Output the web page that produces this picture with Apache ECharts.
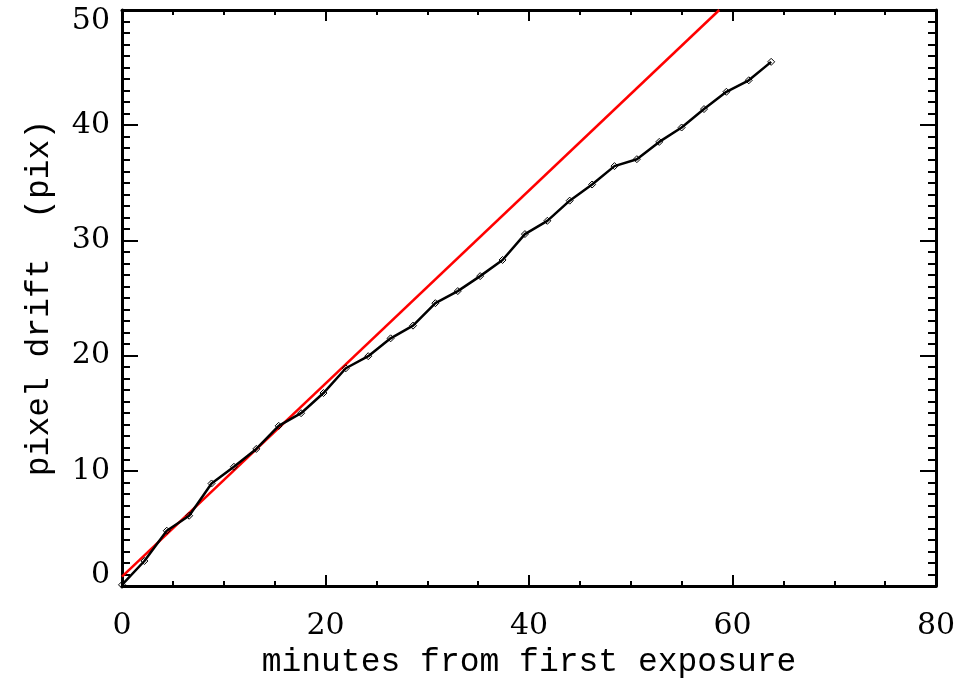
<!DOCTYPE html>
<html><head><meta charset="utf-8">
<script src="https://cdn.jsdelivr.net/npm/echarts@6/dist/echarts.min.js"></script>
<style>html,body{margin:0;padding:0;background:#fff}#c{width:959px;height:685px}</style>
</head><body><div id="c"></div>
<script>
// measured drift (pixels) vs minutes from first exposure
const minutes = [0, 2.2, 4.4, 6.6, 8.8, 11.0, 13.2, 15.4, 17.6, 19.8, 22.0, 24.2, 26.4, 28.6, 30.8,
                 33.0, 35.2, 37.4, 39.6, 41.8, 44.0, 46.2, 48.4, 50.6, 52.8, 55.0, 57.2, 59.4, 61.6, 63.8];
const drift = [0.1, 2.17, 4.8, 6.1, 8.9, 10.35, 11.9, 13.9, 15.0, 16.75, 18.9, 19.95, 21.5, 22.6, 24.55,
               25.6, 26.9, 28.3, 30.55, 31.7, 33.45, 34.85, 36.45, 37.05, 38.55, 39.8, 41.4, 42.9, 43.9, 45.5];
// red reference line endpoints
const fitMinutes = [0, 58.7];
const fitDrift = [0.81, 50];
// axis ticks
const xTicks = [0, 20, 40, 60, 80];
const yTicks = [0, 10, 20, 30, 40, 50];
const xTitle = 'minutes from first exposure';
const yTitle = 'pixel drift  (pix)';

const chart = echarts.init(document.getElementById('c'), null, {renderer: 'canvas'});
const tickFont = {fontFamily: 'DejaVu Serif', fontSize: 30, color: '#000'};
const titleFont = {fontFamily: 'Liberation Mono', fontSize: 33, color: '#000'};
const line = {color: '#000', width: 3};
const tickLine = {color: '#000', width: 2};

function xAx(pos, show) {
  return {
    type: 'value', position: pos, min: xTicks[0], max: xTicks[xTicks.length - 1], interval: 20,
    axisLine: {show: true, onZero: false, lineStyle: line},
    axisTick: {show: true, inside: true, length: 11, lineStyle: tickLine},
    minorTick: {show: true, splitNumber: 4, length: 5, lineStyle: tickLine},
    splitLine: {show: false},
    axisLabel: show ? Object.assign({show: true, margin: 25}, tickFont) : {show: false},
    name: show ? xTitle : '', nameLocation: 'middle', nameGap: 60, nameTextStyle: titleFont
  };
}
function yAx(pos, show) {
  return {
    type: 'value', position: pos, min: yTicks[0], max: yTicks[yTicks.length - 1], interval: 10,
    axisLine: {show: true, onZero: false, lineStyle: line},
    axisTick: {show: true, inside: true, length: 16, lineStyle: tickLine},
    minorTick: {show: true, splitNumber: 10, length: 8, lineStyle: tickLine},
    splitLine: {show: false},
    axisLabel: show ? Object.assign({show: true, margin: 12, lineHeight: 22,
      verticalAlignMinLabel: 'bottom', verticalAlignMaxLabel: 'top'}, tickFont) : {show: false},
    name: show ? yTitle : '', nameLocation: 'middle', nameGap: 66, nameRotate: 90, nameTextStyle: titleFont
  };
}

chart.setOption({
  animation: false,
  backgroundColor: '#fff',
  grid: {left: 122, right: 23, top: 10, bottom: 99, containLabel: false},
  xAxis: [xAx('bottom', true), xAx('top', false)],
  yAxis: [yAx('left', true), yAx('right', false)],
  series: [
    {
      type: 'line', xAxisIndex: 0, yAxisIndex: 0,
      data: fitMinutes.map((m, i) => [m, fitDrift[i]]),
      showSymbol: false, symbol: 'none',
      lineStyle: {color: '#ff0000', width: 2.5}, z: 2
    },
    {
      type: 'line', xAxisIndex: 0, yAxisIndex: 0,
      data: minutes.map((m, i) => [m, drift[i]]),
      symbol: 'diamond', symbolSize: 7, showAllSymbol: true,
      itemStyle: {color: 'rgba(0,0,0,0)', borderColor: '#000', borderWidth: 1},
      lineStyle: {color: '#000', width: 2.5}, z: 3
    }
  ]
});
</script>
</body></html>
